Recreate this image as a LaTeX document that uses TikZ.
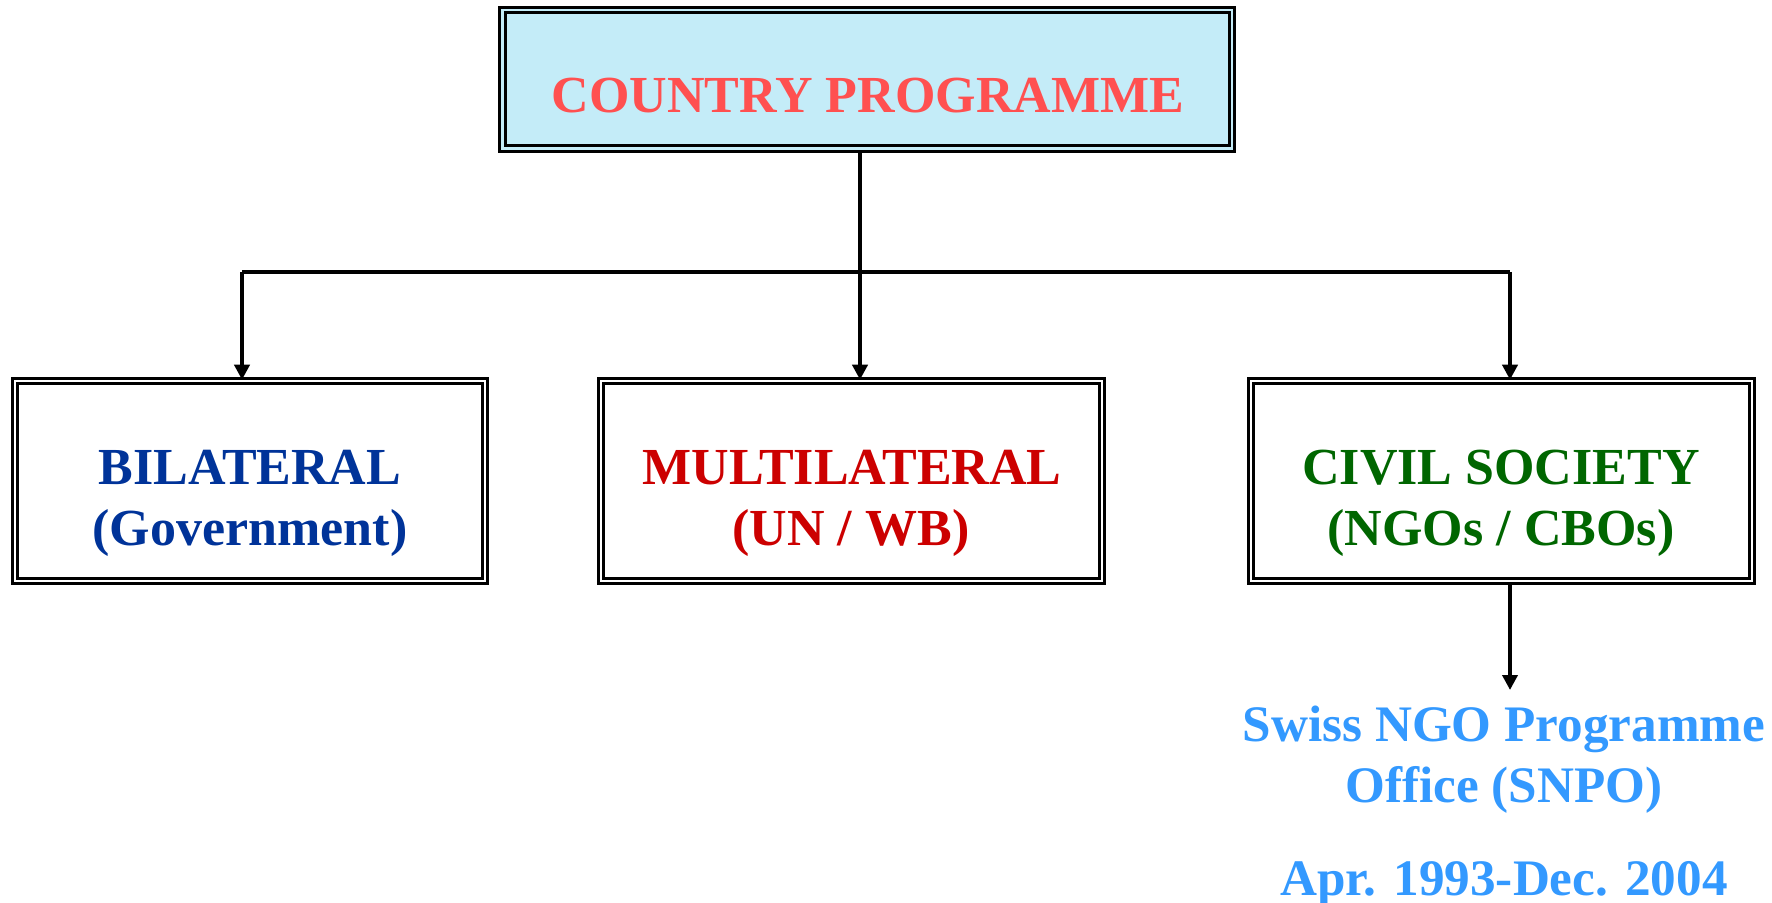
\documentclass[tikz,border=0pt]{standalone}
\usepackage{fontspec}
\setmainfont{Liberation Serif}
\usetikzlibrary{arrows.meta}
\definecolor{cpred}{HTML}{FF5050}
\definecolor{cpfill}{HTML}{C4ECF8}
\definecolor{bilblue}{HTML}{003399}
\definecolor{mulred}{HTML}{CC0000}
\definecolor{civgreen}{HTML}{006600}
\definecolor{snpoblue}{HTML}{3399FF}
\begin{document}
\begin{tikzpicture}[x=0.5pt,y=-0.5pt,
  dbox/.style={draw=black, line width=1.5pt, double=white, double distance=1.25pt, inner sep=0pt},
  lbl/.style={inner sep=0pt, anchor=base, font=\bfseries\fontsize{26pt}{30pt}\selectfont},
  conn/.style={line width=1.9pt},
  arr/.style={line width=1.9pt, -{Triangle[width=7.5pt,length=7.5pt]}}]
\useasboundingbox (0,0) rectangle (1772,903);
% boxes
\node[dbox, fill=cpfill, double=cpfill, minimum width=364.75pt, minimum height=69.25pt] (cp) at (867,79.5) {};
\node[dbox, minimum width=235pt, minimum height=99.75pt] (bil) at (250,481) {};
\node[dbox, minimum width=250.5pt, minimum height=99.75pt] (mul) at (851.5,481) {};
\node[dbox, minimum width=250.5pt, minimum height=99.75pt] (civ) at (1501.5,481) {};
% texts
\node[lbl, text=cpred] (cpt) at (868,113) {COUNTRY PROGRAMME};
\node[lbl, text=bilblue] (bil1) at (250,484) {BILATERAL};
\node[lbl, text=bilblue] (bil2) at (250,545) {(Government)};
\node[lbl, text=mulred] (mul1) at (852,484) {MULTILATERAL};
\node[lbl, text=mulred] (mul2) at (851,545) {(UN / WB)};
\node[lbl, text=civgreen] (civ1) at (1501,484) {CIVIL SOCIETY};
\node[lbl, text=civgreen] (civ2) at (1501,545) {(NGOs / CBOs)};
\node[lbl, text=snpoblue, font=\bfseries\fontsize{25.6pt}{30pt}\selectfont] (sn1) at (1504,741) {Swiss NGO Programme};
\node[lbl, text=snpoblue, font=\bfseries\fontsize{25.6pt}{30pt}\selectfont] (sn2) at (1504,802) {Office (SNPO)};
\node[lbl, text=snpoblue, font=\bfseries\fontsize{25.6pt}{30pt}\selectfont] (sn3) at (1504,895) {Apr. 1993-Dec. 2004};
% connectors
\coordinate (jl) at (242,272);
\coordinate (jm) at (860,272);
\coordinate (jr) at (1510,272);
\coordinate (snt) at (1510,690);
\draw[conn] (jl) -- (jr);
\draw[arr] (cp.south -| jm) -- (mul.north -| jm);
\draw[arr] (jl) -- (bil.north -| jl);
\draw[arr] (jr) -- (civ.north -| jr);
\draw[arr] (civ.south -| jr) -- (snt);
\end{tikzpicture}
\end{document}
